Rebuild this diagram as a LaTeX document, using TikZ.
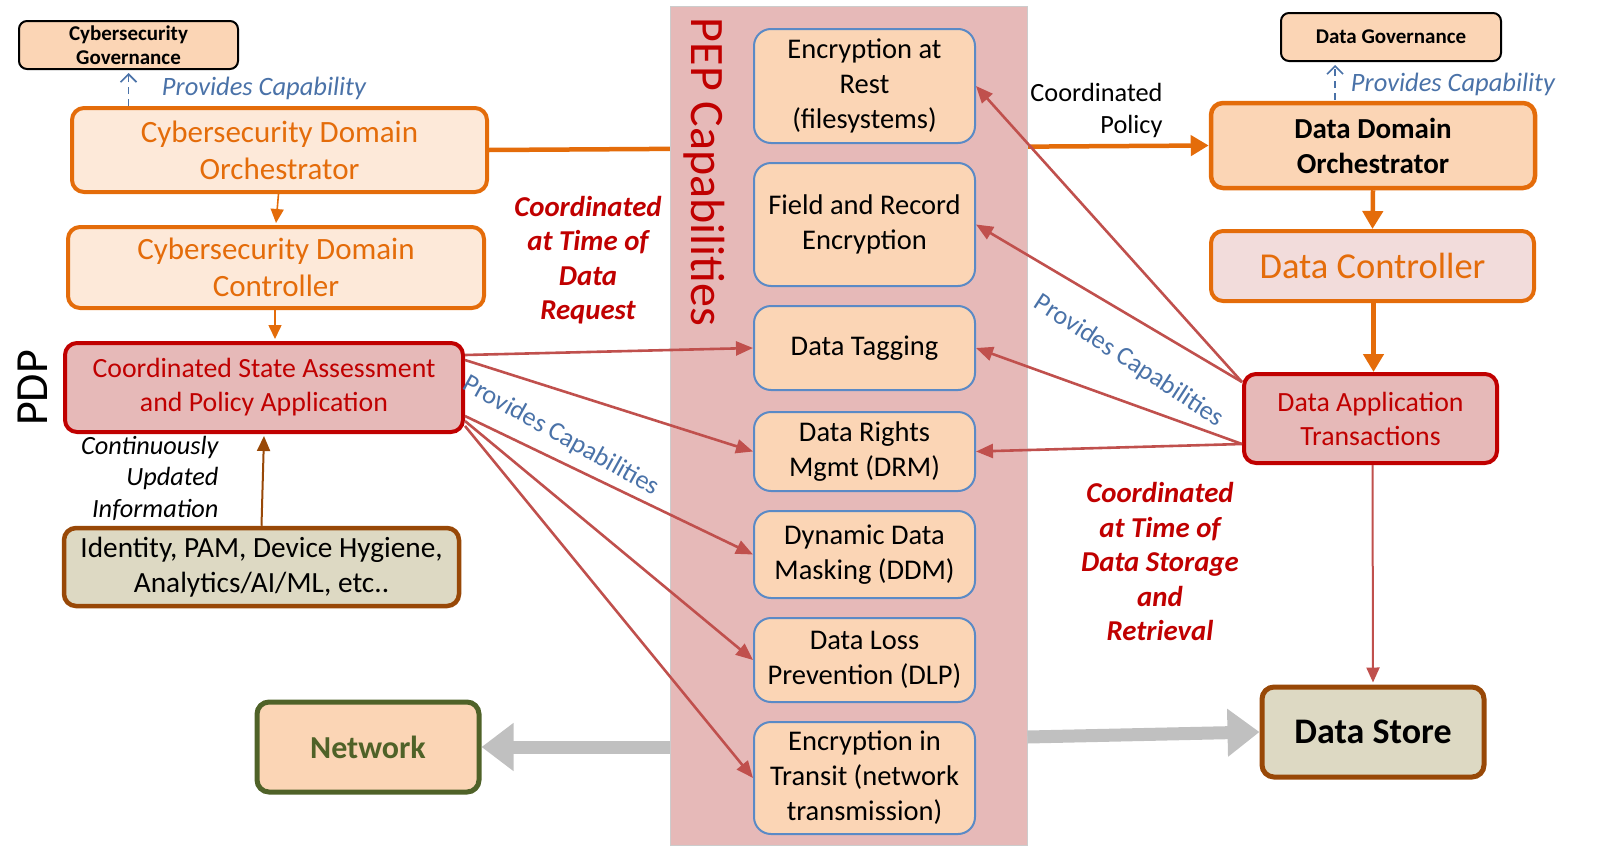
\documentclass[tikz,border=0pt]{standalone}
\usepackage{fontspec}
\setmainfont{Carlito}
\usetikzlibrary{arrows.meta,calc}
\definecolor{peach}{HTML}{FBD5B5}
\definecolor{lpeach}{HTML}{FDE9D9}
\definecolor{orng}{HTML}{E46C0A}
\definecolor{dred}{HTML}{C00000}
\definecolor{pinkf}{HTML}{E6B9B8}
\definecolor{ared}{HTML}{C0504D}
\definecolor{btxt}{HTML}{4A72A8}
\definecolor{bbord}{HTML}{5A8AC6}
\definecolor{brwn}{HTML}{984807}
\definecolor{tanf}{HTML}{DDD9C3}
\definecolor{olive}{HTML}{4F6228}
\definecolor{gryarr}{HTML}{C0C0C0}
\definecolor{dcfill}{HTML}{F2DCDB}
\tikzset{
  box/.style={rectangle, rounded corners=12pt, inner sep=0pt, align=center},
  govbox/.style={box, rounded corners=8pt, draw=black, line width=2pt, fill=peach, font=\fontsize{21}{25}\selectfont\bfseries},
  orbox/.style={box, draw=orng, line width=4pt, fill=lpeach, text=orng, font=\fontsize{31}{37}\selectfont},
  redbox/.style={box, draw=dred, line width=4pt, fill=pinkf, text=dred, font=\fontsize{27.8}{34}\selectfont},
  capbox/.style={box, rounded corners=17pt, draw=bbord, line width=2pt, fill=peach, minimum width=221, font=\fontsize{28.5}{35}\selectfont},
  redarr/.style={ared, line width=2.6pt, -{Triangle[length=17pt,width=14pt]}},
  grayarr/.style={gryarr, line width=13pt, -{Triangle[length=32pt,width=46pt]}},
  dasharr/.style={btxt, line width=1.8pt, dashed, dash pattern=on 7pt off 5pt, -{Straight Barb[length=8pt,width=16pt,line width=1.6pt]}},
  bluelab/.style={text=btxt, font=\fontsize{26.5}{30}\selectfont\itshape},
  capslab/.style={text=btxt, font=\fontsize{26.3}{30}\selectfont},
  coordlab/.style={text=dred, align=center, font=\fontsize{28.8}{34.5}\selectfont\bfseries\itshape}
}
\begin{document}
\begin{tikzpicture}[x=1pt,y=-1pt]
\useasboundingbox (0,0) rectangle (1598,862);
% left column
\node[govbox, minimum width=219, minimum height=48] (cgov) at (128.5,45) {Cybersecurity\\[-1pt]Governance};
\node[orbox, minimum width=415, minimum height=84] (cso) at (279.5,150) {Cybersecurity Domain\\Orchestrator};
\node[orbox, minimum width=416, minimum height=81] (csc) at (276,267.5) {Cybersecurity Domain\\Controller};
\node[redbox, minimum width=398, minimum height=89] (csa) at (264,387.5) {Coordinated State Assessment\\and Policy Application};
\node[box, draw=brwn, line width=4.5pt, fill=tanf, minimum width=395, minimum height=78, font=\fontsize{29.3}{35}\selectfont] (idb) at (261.5,567) {Identity, PAM, Device Hygiene,\\Analytics/AI/ML, etc..};
\node[box, draw=olive, line width=5pt, fill=peach, text=olive, minimum width=222, minimum height=90, font=\fontsize{32}{36}\selectfont\bfseries] (net) at (368,747) {Network};
% right column
\node[govbox, minimum width=220, minimum height=48] (dgov) at (1391,37) {Data Governance};
\node[box, draw=orng, line width=4.5pt, fill=peach, minimum width=324, minimum height=85, font=\fontsize{29}{35}\selectfont\bfseries] (ddo) at (1373,145.5) {Data Domain\\Orchestrator};
\node[box, draw=orng, line width=4pt, fill=dcfill, text=orng, minimum width=323, minimum height=70, font=\fontsize{36.5}{40}\selectfont] (dc) at (1372.5,266) {Data Controller};
\node[redbox, minimum width=253, minimum height=89] (dat) at (1370.5,418.5) {Data Application\\Transactions};
\node[box, draw=brwn, line width=5pt, fill=tanf, minimum width=222, minimum height=90, font=\fontsize{36}{40}\selectfont\bfseries] (ds) at (1373,732) {Data Store};
% orange policy line (behind PEP band)
\draw[orng, line width=4.5pt, -{Triangle[length=18pt,width=20pt]}] (cso.east) -- (ddo.west);
% PEP band
\node[rectangle, draw=black!20, line width=1pt, fill=pinkf, minimum width=357, minimum height=839, inner sep=0pt] (pep) at (848.5,425.5) {};
\node[text=dred, rotate=-90, font=\fontsize{48}{50}\selectfont, inner sep=0pt] (peplab) at (704,172) {PEP Capabilities};
% capability boxes
\node[capbox, minimum height=114] (c1) at (864.5,86) {Encryption at\\Rest\\(filesystems)};
\node[capbox, minimum height=123] (c2) at (864.5,224.5) {Field and Record\\Encryption};
\node[capbox, minimum height=84] (c3) at (864.5,348) {Data Tagging};
\node[capbox, minimum height=79] (c4) at (864.5,451.5) {Data Rights\\Mgmt (DRM)};
\node[capbox, minimum height=87] (c5) at (864.5,554.5) {Dynamic Data\\Masking (DDM)};
\node[capbox, minimum height=84] (c6) at (864.5,660) {Data Loss\\Prevention (DLP)};
\node[capbox, minimum height=112] (c7) at (864.5,778) {Encryption in\\Transit (network\\transmission)};
% gray arrows
\draw[grayarr] (pep.west |- net.east) -- (net.east);
\draw[grayarr] ($(pep.east |- ds.west)+(0,5)$) -- (ds.west);
% left connectors
\draw[orng, line width=1.6pt, -{Triangle[length=14pt,width=13pt]}] ($(cso.south)+(-1,0)$) -- ($(csc.north)+(0,-2)$);
\draw[orng, line width=1.6pt, -{Triangle[length=14pt,width=13pt]}] ($(csc.south)+(-1,0)$) -- ($(csa.north)+(11,-2)$);
\draw[brwn, line width=2pt, -{Triangle[length=15pt,width=13pt]}] (idb.north) -- ($(csa.south)+(0,2)$);
\draw[dasharr] (cso.north -| cgov.south) -- ($(cgov.south)+(0,3)$);
\coordinate (dg1) at (1335,100);
\draw[dasharr] (dg1) -- ($(dg1 |- dgov.south)+(0,3)$);
% red arrows from CSA
\coordinate (csa1) at ($(csa.north east)+(0,14)$);
\coordinate (csa2) at ($(csa.north east)+(0,19)$);
\coordinate (csa3) at ($(csa.north east)+(0,75)$);
\coordinate (csa4) at ($(csa.north east)+(0,80)$);
\coordinate (csa5) at ($(csa.north east)+(0,85)$);
\draw[redarr] (csa1) -- (c3.west);
\draw[redarr] (csa2) -- (c4.west);
\draw[redarr] (csa3) -- (c5.west);
\draw[redarr] (csa4) -- (c6.west);
\draw[redarr] (csa5) -- (c7.west);
% red arrows from DAT
\coordinate (dat1) at ($(dat.north west)+(0,10)$);
\coordinate (dat2) at ($(dat.north west)+(0,72)$);
\draw[redarr] (dat1) -- (c1.east);
\draw[redarr] (dat1) -- (c2.east);
\draw[redarr] (dat2) -- (c3.east);
\draw[redarr] (dat2) -- (c4.east);
\draw[ared, line width=2pt, -{Triangle[length=15pt,width=13pt]}] ($(dat.south)+(2,0)$) -- ($(ds.north)+(0,-2)$);
% right orange connectors
\draw[orng, line width=4.5pt, -{Triangle[length=18pt,width=20pt]}] (ddo.south) -- (dc.north);
\draw[orng, line width=4.5pt, -{Triangle[length=18pt,width=20pt]}] ($(dc.south)+(1,0)$) -- ($(dat.north)+(3,0)$);
% labels
\node[bluelab] (pc1) at (264,88) {Provides Capability};
\node[bluelab] (pc2) at (1453,84) {Provides Capability};
\node[align=right, anchor=east, font=\fontsize{26.3}{32}\selectfont] (cpol) at (1166,110) {Coordinated\\Policy};
\node[coordlab] (cdr) at (588,260) {Coordinated\\at Time of\\Data\\Request};
\node[coordlab] (cds) at (1160,561.5) {Coordinated\\at Time of\\Data Storage\\and\\Retrieval};
\node[align=right, anchor=east, font=\fontsize{26.3}{31.5}\selectfont\itshape] (cui) at (222,478) {Continuously\\Updated\\Information};
\node[rotate=90, font=\fontsize{46}{48}\selectfont] (pdp) at (33,388) {PDP};
\node[capslab, rotate=-29] (pcl) at (561,436) {Provides Capabilities};
\node[capslab, rotate=-33] (pcr) at (1129,361) {Provides Capabilities};
\end{tikzpicture}
\end{document}
